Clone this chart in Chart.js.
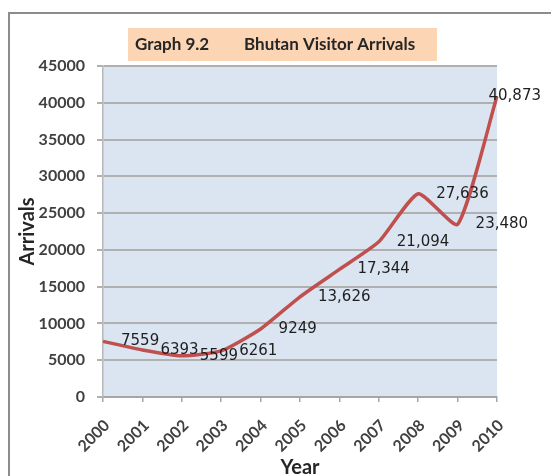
<!DOCTYPE html>
<html>
<head>
<meta charset="utf-8">
<script src="https://cdn.jsdelivr.net/npm/chart.js@4/dist/chart.umd.min.js"></script>
<style>
  html, body { margin: 0; padding: 0; background: #fff; }
  #wrap { width: 551px; height: 476px; position: relative; }
</style>
</head>
<body>
<div id="wrap"><canvas id="myChart" width="551" height="476"></canvas></div>
<script>
const YEARS = ['2000', '2001', '2002', '2003', '2004', '2005', '2006', '2007', '2008', '2009', '2010'];
const ARRIVALS = [7559, 6393, 5599, 6261, 9249, 13626, 17344, 21094, 27636, 23480, 40873];
const Y_TICKS = [0, 5000, 10000, 15000, 20000, 25000, 30000, 35000, 40000, 45000];
const TITLE_PARTS = ['Graph 9.2', 'Bhutan Visitor Arrivals'];

function labelText(v) {
  return v >= 10000 ? v.toLocaleString('en-US') : String(v);
}

// frame, plot background and the peach title box
const backdrop = {
  id: 'backdrop',
  beforeDraw(chart) {
    const ctx = chart.ctx;
    const a = chart.chartArea;
    ctx.save();
    ctx.fillStyle = '#dbe5f1';
    ctx.fillRect(a.left, a.top, a.right - a.left, a.bottom - a.top);

    ctx.strokeStyle = '#8c8c8c';
    ctx.lineWidth = 2;
    ctx.beginPath();
    ctx.moveTo(9, 476);
    ctx.lineTo(9, 13);
    ctx.lineTo(551, 13);
    ctx.stroke();

    ctx.fillStyle = '#fcd5b4';
    ctx.fillRect(128, 28, 309, 33);
    ctx.fillStyle = '#262626';
    ctx.font = 'bold 17px Lato';
    ctx.textBaseline = 'middle';
    ctx.fillText(TITLE_PARTS[0], 135, 45);
    ctx.fillText(TITLE_PARTS[1], 244, 45);
    ctx.restore();
  }
};

// excel-like value labels to the right of each point
const valueLabels = {
  id: 'valueLabels',
  afterDatasetsDraw(chart) {
    const ctx = chart.ctx;
    const pts = chart.getDatasetMeta(0).data;
    ctx.save();
    ctx.font = '15px "DejaVu Sans"';
    ctx.fillStyle = '#1e1e1e';
    ctx.textBaseline = 'middle';
    ctx.textAlign = 'left';
    pts.forEach(function(p, i) {
      const txt = labelText(ARRIVALS[i]);
      const w = ctx.measureText(txt).width;
      let x = p.x + 18;
      if (x + w > 541) x = 541 - w;
      ctx.fillText(txt, x, p.y);
    });
    ctx.restore();
  }
};

window.onload = function() {
  const ctx = document.getElementById('myChart');

  const data = {
    labels: YEARS,
    datasets: [{
      label: 'Arrivals',
      data: ARRIVALS,
      borderColor: '#c0504d',
      borderWidth: 3.5,
      pointRadius: 0,
      tension: 0.18,
      fill: false
    }]
  };

  const config = {
    type: 'line',
    data: data,
    options: {
      responsive: false,
      animation: false,
      layout: { padding: { top: 66, right: 54, left: 0, bottom: 0 } },
      plugins: { legend: { display: false }, tooltip: { enabled: false } },
      scales: {
        x: {
          offset: false,
          afterFit(scale) { scale.height = 79; },
          grid: { drawOnChartArea: false, color: '#a6a6a6', lineWidth: 1.5, tickLength: 5 },
          border: { color: '#a6a6a6', width: 2 },
          ticks: {
            autoSkip: false, minRotation: 45, maxRotation: 45, padding: 14, labelOffset: 4,
            color: '#404040', font: { family: 'Lato', weight: 'bold', size: 16 }
          },
          title: {
            display: true, text: 'Year', color: '#262626',
            font: { family: 'Lato', weight: 'bold', size: 20 },
            padding: { top: 0, bottom: -4 }
          }
        },
        y: {
          min: 0, max: 45000,
          afterFit(scale) { scale.width = 103; },
          afterBuildTicks(scale) { scale.ticks = Y_TICKS.map(v => ({ value: v })); },
          grid: { color: '#b0b0b0', lineWidth: 2, tickLength: 6 },
          border: { color: '#b8b8b8', width: 1.5 },
          ticks: {
            padding: 12, color: '#404040',
            font: { family: 'Lato', weight: 'bold', size: 16 },
            callback: v => String(v)
          },
          title: {
            display: true, text: 'Arrivals', color: '#262626',
            font: { family: 'Lato', weight: 'bold', size: 20 },
            padding: { top: 16, bottom: 0 }
          }
        }
      }
    },
    plugins: [backdrop, valueLabels]
  };

  new Chart(ctx, config);
};
</script>
</body>
</html>
